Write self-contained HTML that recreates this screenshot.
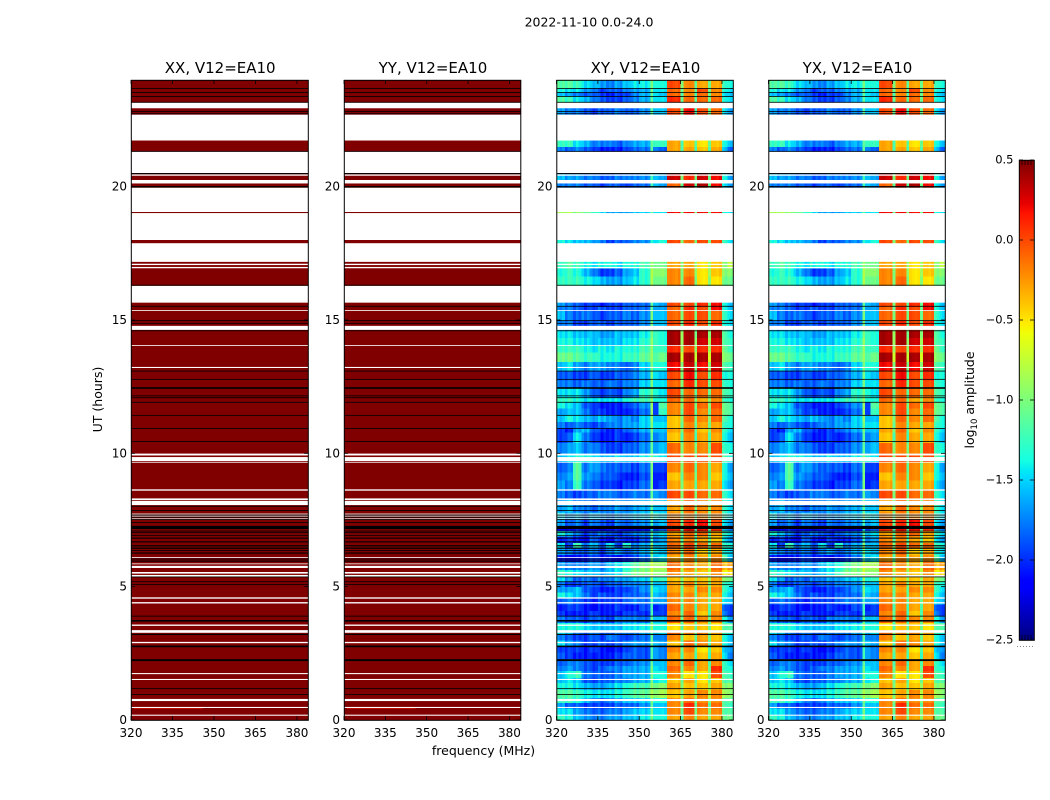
<!DOCTYPE html>
<html>
<head>
<meta charset="utf-8">
<title>2022-11-10 0.0-24.0</title>
<style>
html,body{margin:0;padding:0;background:#fff;}
svg{display:block;}
text{font-family:"DejaVu Sans","Liberation Sans",sans-serif;fill:#000;}
</style>
</head>
<body>
<svg id="chart" xmlns="http://www.w3.org/2000/svg" width="1050" height="800" viewBox="0 0 1050 800"></svg>
<script>
const panelTitles = ["XX, V12=EA10", "YY, V12=EA10", "XY, V12=EA10", "YX, V12=EA10"];
const freqTicks = [320, 335, 350, 365, 380];
const hourTicks = [0, 5, 10, 15, 20];
const colorbarTicks = [0.5, 0.0, -0.5, -1.0, -1.5, -2.0, -2.5];
const channelEdges = [320,323,326,329,332,335,338,341,344,347,350,354,355,357,360,365,366,370,371,375,376,380,382,384];
const columnOffset = [-0.05,-0.05,-0.05,-0.05,-0.05,-0.05,-0.05,-0.05,-0.05,-0.05,-0.1,-0.05,-0.25,-0.25,0.1,-0.2,0.1,-0.2,0.1,-0.2,0.1,-0.15,-0.15];
const channelRipple = [0.05,-0.05,0.03,-0.08,0.05,0,-0.05,0.08,-0.03,0.05,-0.08,0.03,0.05,-0.05,0,0.08,-0.08,0.03,-0.03,0.05,-0.05,0.08,0,-0.08,0.05,-0.03,0.03,-0.05,0.08,-0.05,0,0.05,-0.08,0.03,0.05,0,0,0,0.03,-0.03,0,0.03,0,-0.03,0.03,0,-0.03,0,0.03,0,-0.03,0.03,0,-0.03,0,0.03,0,0,-0.03,0.03,0.05,-0.05,0.03,-0.03];
const parallelAmplitude = [0.5];
const flaggedBands = [[0.16,0.20],[0.45,0.49],[0.71,0.79],[1.50,1.54],[1.72,1.76],[2.88,2.93],[3.27,3.37],[3.53,3.58],[4.37,4.42],[4.55,4.60],[5.38,5.44],[5.49,5.55],[5.70,5.78],[5.84,5.87],[6.08,6.11],[7.53,7.56],[7.63,7.66],[7.71,7.74],[8.06,8.22],[8.25,8.31],[8.60,8.65],[9.65,9.68],[9.71,9.86],[9.92,9.99],[13.20,13.24],[14.04,14.06],[14.63,14.78],[15.35,15.37],[15.65,16.28],[16.94,16.99],[17.06,17.11],[17.18,17.88],[18.00,19.01],[19.05,19.96],[20.12,20.25],[20.41,20.46],[20.51,21.31],[21.73,22.70],[22.94,23.15]];
const blankBands = [[0.94,0.97],[1.16,1.19],[2.21,2.28],[2.73,2.79],[3.19,3.23],[3.69,3.75],[3.88,3.91],[5.06,5.09],[5.17,5.20],[5.36,5.38],[5.94,5.98],[6.03,6.05],[6.24,6.28],[6.35,6.37],[6.43,6.45],[6.48,6.50],[6.54,6.56],[6.66,6.70],[6.80,6.84],[6.92,6.94],[7.01,7.04],[7.08,7.10],[7.16,7.28],[7.40,7.42],[7.50,7.53],[7.59,7.62],[7.67,7.70],[7.85,7.87],[8.00,8.03],[10.43,10.46],[10.92,10.95],[11.41,11.44],[11.90,11.93],[12.07,12.10],[12.15,12.17],[12.42,12.48],[12.76,12.79],[13.07,13.10],[14.58,14.61],[14.86,14.89],[14.96,14.99],[15.50,15.53],[16.30,16.32],[19.97,20.02],[20.47,20.51],[21.31,21.34],[22.72,22.75],[22.80,22.83],[23.15,23.18],[23.38,23.40],[23.52,23.55],[23.67,23.70]];
const rowStartHours = [0,0.2,0.45,0.65,0.85,1.15,1.4,1.6,1.85,2.05,2.3,2.55,2.75,3,3.2,3.4,3.65,3.9,4.1,4.35,4.6,4.8,5,5.2,5.45,5.65,5.95,6.2,6.45,6.65,6.9,7.1,7.3,7.55,7.8,8.3,8.65,9,9.3,9.7,10,10.4,10.8,10.95,11.2,11.45,11.7,11.95,12.1,12.45,12.75,13.1,13.45,13.8,14.05,14.35,14.6,14.8,15,15.35,15.5,16.3,16.65,16.95,17.88,19,19.96,20.25,21.3,21.5,22.7,23.15,23.4,23.55,23.7];
const crossValues = [
[-1.2,-1.3,-1.5,-1.6,-1.7,-1.7,-1.6,-1.6,-1.5,-1.5,-1.3,-1.0,-1.1,-1.1,-0.4,-1.0,-0.3,-0.8,-0.4,-0.8,-0.4,-0.9,-0.9],
[-1.4,-1.4,-1.6,-1.7,-1.8,-1.8,-1.7,-1.7,-1.6,-1.5,-1.4,-1.0,-1.2,-1.2,-0.3,-0.9,-0.1,-0.8,-0.3,-0.8,-0.3,-1.0,-1.0],
[-1.6,-1.8,-1.8,-1.9,-1.9,-1.9,-1.9,-1.8,-1.8,-1.8,-1.6,-1.1,-1.3,-1.3,-0.3,-0.9,0.0,-0.9,-0.2,-1.0,-0.2,-1.0,-1.1],
[-1.2,-1.2,-1.3,-1.5,-1.7,-1.8,-1.7,-1.6,-1.5,-1.5,-1.4,-1.0,-1.1,-1.1,-0.3,-0.8,-0.2,-0.8,-0.3,-0.8,-0.3,-1.0,-1.0],
[-1.1,-1.1,-1.2,-1.3,-1.4,-1.4,-1.4,-1.3,-1.2,-1.1,-1.0,-0.8,-0.7,-0.6,-0.5,-0.8,-0.4,-0.7,-0.3,-0.6,-0.3,-0.7,-0.8],
[-1.3,-1.3,-1.4,-1.5,-1.6,-1.6,-1.5,-1.4,-1.3,-1.2,-1.1,-0.9,-0.8,-0.7,-0.4,-0.8,-0.5,-0.8,-0.5,-0.7,-0.4,-0.8,-0.8],
[-1.5,-1.4,-1.5,-1.8,-1.9,-1.8,-1.8,-1.7,-1.7,-1.6,-1.5,-1.0,-1.2,-1.1,-0.5,-0.9,-0.4,-0.9,-0.6,-0.9,-0.5,-1.0,-1.0],
[-1.5,-1.3,-1.2,-1.7,-1.8,-1.8,-1.8,-1.7,-1.6,-1.6,-1.5,-1.0,-1.1,-1.1,-0.3,-0.8,-0.6,-0.9,-0.6,-0.8,-0.1,-1.0,-1.1],
[-1.7,-1.6,-1.7,-1.8,-1.9,-1.8,-1.7,-1.7,-1.6,-1.6,-1.5,-1.0,-1.2,-1.3,-0.2,-0.9,-0.3,-0.9,-0.4,-0.9,0.0,-1.1,-1.2],
[-1.8,-1.7,-1.7,-1.8,-1.9,-1.9,-1.9,-1.8,-1.8,-1.7,-1.6,-1.1,-1.3,-1.3,-0.3,-1.0,-0.2,-1.0,-0.4,-1.0,-0.3,-1.1,-1.3],
[-1.8,-1.9,-2.0,-2.0,-2.0,-2.0,-2.0,-1.9,-1.8,-1.8,-1.8,-1.2,-1.4,-1.5,-0.4,-1.0,-0.4,-1.0,-0.5,-1.1,-0.4,-1.3,-1.6],
[-1.9,-1.9,-1.9,-2.0,-1.9,-2.0,-2.1,-2.0,-1.9,-1.8,-1.8,-1.2,-1.4,-1.5,-0.3,-0.9,-0.3,-0.9,-0.6,-1.0,-0.5,-1.4,-1.5],
[-1.4,-1.6,-1.7,-1.9,-1.9,-1.8,-1.9,-1.8,-1.7,-1.6,-1.6,-1.1,-1.3,-1.4,-0.5,-1.0,-0.2,-1.0,-0.3,-1.0,-0.4,-1.2,-1.4],
[-1.7,-1.8,-1.9,-1.9,-1.8,-1.9,-1.7,-1.8,-1.9,-1.8,-1.7,-1.1,-1.5,-1.5,-0.3,-0.9,-0.5,-0.9,-0.4,-0.9,-0.5,-1.2,-1.4],
[-1.4,-1.5,-1.7,-1.8,-1.7,-1.8,-1.8,-1.7,-1.7,-1.7,-1.5,-1.1,-1.3,-1.2,-0.2,-0.8,-0.3,-0.8,-0.3,-0.8,-0.4,-1.1,-1.2],
[-1.3,-1.3,-1.3,-1.4,-1.5,-1.5,-1.5,-1.5,-1.4,-1.4,-1.3,-0.9,-1.1,-1.1,-0.6,-1.0,-0.5,-0.9,-0.5,-0.9,-0.6,-1.0,-1.0],
[-1.7,-1.8,-1.8,-1.9,-1.8,-1.8,-1.9,-1.7,-1.7,-1.7,-1.7,-1.1,-1.3,-1.3,-0.2,-0.9,-0.2,-1.0,-0.3,-0.9,-0.3,-1.2,-1.5],
[-1.9,-2.0,-2.0,-2.0,-1.9,-2.0,-2.0,-2.0,-1.9,-1.9,-1.9,-1.2,-1.7,-1.7,-0.3,-0.9,-0.2,-1.0,-0.5,-1.0,-0.3,-1.6,-1.8],
[-2.0,-1.9,-1.9,-2.0,-2.1,-2.0,-2.0,-1.9,-2.0,-2.0,-1.8,-1.2,-1.8,-1.7,-0.2,-1.0,-0.3,-1.0,-0.4,-1.0,-0.4,-1.7,-1.8],
[-1.8,-1.7,-1.8,-1.9,-2.0,-1.9,-1.9,-1.9,-1.8,-1.7,-1.7,-1.2,-1.4,-1.4,-0.3,-0.9,-0.3,-0.9,-0.4,-0.9,-0.4,-1.3,-1.4],
[-1.3,-1.4,-1.5,-1.7,-1.9,-1.8,-1.9,-1.9,-1.8,-1.8,-1.7,-1.0,-1.3,-1.4,-0.3,-0.9,-0.3,-0.9,-0.4,-0.9,-0.4,-1.2,-1.4],
[-1.6,-1.6,-1.5,-1.8,-1.9,-2.0,-2.0,-1.9,-1.9,-1.8,-1.6,-1.0,-1.2,-1.3,-0.4,-0.9,-0.4,-0.9,-0.3,-0.9,-0.3,-1.1,-1.3],
[-1.7,-1.9,-1.9,-1.8,-1.8,-1.9,-1.8,-1.8,-1.7,-1.7,-1.6,-1.1,-1.3,-1.3,-0.4,-0.8,-0.3,-0.8,-0.4,-0.8,-0.4,-1.1,-1.2],
[-1.4,-1.6,-1.8,-1.7,-1.8,-1.7,-1.7,-1.6,-1.6,-1.5,-1.4,-0.9,-1.1,-1.0,-0.5,-0.8,-0.5,-0.7,-0.5,-0.7,-0.4,-0.8,-0.9],
[-1.2,-1.3,-1.4,-1.5,-1.5,-1.6,-1.5,-1.4,-1.2,-1.0,-0.9,-0.7,-0.7,-0.7,-0.3,-0.7,-0.4,-0.7,-0.5,-0.6,-0.3,-0.4,-0.3],
[-1.6,-1.7,-1.7,-1.7,-1.6,-1.7,-1.5,-1.4,-1.3,-1.1,-0.9,-0.7,-0.6,-0.6,-0.2,-0.6,-0.3,-0.6,-0.4,-0.6,-0.2,-0.2,-0.1],
[-2.0,-2.1,-2.1,-2.0,-1.9,-2.0,-2.0,-2.1,-2.0,-1.9,-1.7,-1.1,-1.3,-1.2,-0.4,-1.0,-0.3,-1.0,-0.4,-1.0,-0.3,-1.0,-1.4],
[-1.6,-1.7,-1.8,-1.8,-1.7,-1.9,-1.7,-1.6,-1.8,-1.7,-1.5,-1.0,-1.2,-1.3,-0.3,-0.9,-0.2,-0.9,-0.5,-1.0,-0.4,-1.2,-1.3],
[-1.4,-1.9,-1.2,-1.7,-1.5,-1.8,-1.4,-1.9,-1.3,-1.7,-1.5,-0.9,-1.3,-1.3,-0.2,-0.8,-0.1,-0.9,-0.2,-0.9,-0.2,-1.1,-1.2],
[-2.0,-1.9,-2.0,-2.1,-1.8,-2.0,-2.1,-1.9,-2.0,-2.0,-1.8,-1.2,-1.5,-1.4,-0.3,-1.0,-0.3,-1.0,-0.4,-1.0,-0.5,-1.3,-1.5],
[-1.3,-1.5,-1.7,-1.9,-1.8,-1.7,-1.8,-1.9,-1.8,-1.7,-1.6,-1.1,-1.3,-1.2,-0.4,-0.9,-0.2,-0.9,-0.2,-1.0,-0.4,-1.1,-1.3],
[-2.1,-2.1,-2.0,-2.1,-2.1,-2.2,-2.1,-2.0,-2.1,-2.1,-2.0,-1.4,-1.7,-1.6,0.0,-1.0,0.1,-1.0,0.1,-1.0,0.0,-1.4,-1.6],
[-1.6,-1.8,-1.7,-1.9,-1.7,-1.8,-1.9,-1.7,-1.8,-1.7,-1.6,-1.2,-1.4,-1.3,-0.1,-0.9,0.0,-0.9,0.1,-1.0,-0.1,-1.3,-1.5],
[-1.4,-1.6,-1.5,-1.7,-1.5,-1.6,-1.7,-1.6,-1.6,-1.5,-1.4,-1.0,-1.1,-1.2,-0.3,-0.9,-0.3,-0.9,-0.3,-0.9,-0.3,-1.1,-1.3],
[-1.6,-1.5,-1.7,-1.7,-1.8,-1.7,-1.7,-1.6,-1.7,-1.6,-1.5,-1.1,-1.3,-1.3,-0.4,-0.8,-0.2,-0.8,-0.3,-0.8,-0.3,-1.1,-1.3],
[-1.7,-1.8,-1.9,-1.8,-1.8,-1.7,-1.7,-1.8,-1.8,-1.7,-1.7,-1.1,-1.4,-1.5,-0.1,-0.8,-0.1,-0.8,-0.2,-0.8,-0.2,-1.1,-1.3],
[-1.6,-1.7,-1.2,-1.7,-1.8,-1.9,-1.9,-2.0,-1.9,-1.9,-1.7,-1.0,-1.8,-1.7,-0.4,-0.8,-0.4,-0.9,-0.4,-0.8,-0.4,-1.3,-1.5],
[-1.7,-1.6,-1.1,-1.6,-1.7,-1.8,-1.8,-1.9,-2.0,-2.0,-1.8,-1.0,-1.8,-1.8,-0.5,-0.9,-0.3,-0.8,-0.3,-0.9,-0.5,-1.2,-1.4],
[-1.8,-1.7,-1.1,-1.7,-1.6,-1.7,-1.8,-1.8,-1.8,-1.9,-1.7,-1.0,-1.7,-1.7,-0.3,-0.8,-0.2,-0.9,-0.3,-0.9,-0.4,-1.2,-1.5],
[-1.5,-1.4,-1.3,-1.3,-1.4,-1.5,-1.5,-1.4,-1.5,-1.5,-1.3,-1.0,-1.1,-1.2,-0.1,-0.8,-0.1,-0.8,-0.1,-0.8,-0.1,-1.0,-1.2],
[-1.7,-1.6,-1.5,-1.7,-1.7,-1.8,-1.9,-1.9,-1.8,-1.8,-1.6,-1.1,-1.4,-1.3,-0.2,-0.8,-0.3,-0.8,-0.3,-0.9,-0.1,-1.1,-1.2],
[-1.9,-1.8,-1.4,-1.7,-1.9,-2.0,-2.0,-1.9,-2.0,-1.9,-1.7,-1.1,-1.5,-1.4,-0.5,-1.0,-0.3,-1.0,-0.4,-1.0,-0.4,-1.2,-1.4],
[-1.9,-2.0,-1.6,-1.5,-1.8,-1.9,-2.0,-1.9,-1.8,-1.7,-1.5,-1.0,-1.3,-1.3,-0.4,-0.8,-0.2,-0.9,-0.5,-0.8,-0.3,-1.1,-1.3],
[-1.7,-1.8,-1.7,-1.8,-1.9,-1.8,-1.7,-1.7,-1.6,-1.6,-1.4,-1.0,-1.2,-1.2,-0.5,-0.9,-0.3,-0.9,-0.4,-0.9,-0.4,-1.1,-1.2],
[-1.5,-1.3,-1.4,-1.5,-1.6,-1.5,-1.6,-1.7,-1.6,-1.7,-1.4,-0.9,-1.3,-1.3,-0.5,-0.8,-0.2,-0.8,-0.3,-0.8,-0.2,-1.0,-1.2],
[-1.6,-1.5,-1.5,-1.7,-1.9,-1.9,-2.0,-2.0,-2.0,-1.9,-1.7,-0.9,-1.7,-1.0,-0.3,-0.9,-0.1,-0.9,-0.3,-0.9,-0.2,-0.9,-1.0],
[-1.3,-1.4,-1.5,-1.8,-1.9,-2.0,-2.0,-2.0,-1.9,-1.8,-1.6,-0.9,-1.7,-0.9,-0.3,-0.8,-0.1,-0.8,-0.2,-0.8,-0.1,-0.9,-1.0],
[-1.2,-1.2,-1.3,-1.4,-1.4,-1.4,-1.4,-1.4,-1.3,-1.2,-1.1,-0.9,-1.1,-1.1,-0.2,-0.8,-0.2,-0.8,-0.4,-0.8,-0.3,-1.1,-1.2],
[-1.4,-1.4,-1.4,-1.6,-1.8,-1.9,-1.8,-1.9,-1.7,-1.6,-1.2,-1.0,-1.1,-1.2,-0.1,-0.9,-0.2,-0.9,-0.2,-0.9,-0.2,-1.0,-1.1],
[-1.7,-1.7,-1.8,-1.7,-1.8,-1.8,-1.7,-1.8,-1.7,-1.7,-1.4,-1.0,-1.2,-1.2,-0.2,-0.8,0.0,-0.8,-0.1,-0.9,-0.1,-1.1,-1.2],
[-1.8,-1.8,-1.9,-1.9,-1.8,-1.9,-1.9,-1.8,-1.8,-1.7,-1.5,-1.0,-1.2,-1.3,-0.1,-0.8,0.1,-0.9,-0.1,-0.9,0.0,-1.2,-1.2],
[-1.5,-1.4,-1.6,-1.7,-1.6,-1.6,-1.7,-1.7,-1.8,-1.7,-1.4,-1.0,-1.1,-1.1,0.1,-0.8,0.2,-0.8,0.1,-0.8,0.2,-1.0,-1.1],
[-1.0,-1.0,-1.1,-1.2,-1.2,-1.3,-1.3,-1.3,-1.2,-1.2,-1.0,-0.9,-0.9,-0.8,0.3,-0.5,0.3,-0.5,0.3,-0.5,0.3,-0.8,-0.9],
[-1.2,-1.2,-1.2,-1.3,-1.4,-1.3,-1.4,-1.3,-1.3,-1.3,-1.1,-0.9,-1.0,-1.0,0.0,-0.7,-0.1,-0.7,0.0,-0.7,0.0,-0.9,-1.1],
[-1.3,-1.3,-1.4,-1.4,-1.5,-1.5,-1.5,-1.5,-1.4,-1.4,-1.2,-0.9,-1.0,-1.1,0.3,-0.7,0.3,-0.7,0.2,-0.7,0.2,-1.0,-1.1],
[-1.4,-1.4,-1.5,-1.5,-1.5,-1.6,-1.6,-1.5,-1.5,-1.5,-1.3,-1.0,-1.0,-1.1,0.3,-0.7,0.3,-0.8,0.3,-0.8,0.3,-1.0,-1.2],
[-1.5,-1.6,-1.6,-1.7,-1.6,-1.6,-1.7,-1.6,-1.6,-1.6,-1.4,-1.0,-1.2,-1.2,0.0,-0.8,0.0,-0.8,0.0,-0.8,0.1,-1.1,-1.3],
[-1.7,-1.7,-1.9,-1.9,-1.8,-1.8,-1.9,-1.8,-1.8,-1.8,-1.6,-1.0,-1.3,-1.3,-0.1,-0.9,0.0,-0.9,-0.1,-0.9,0.0,-1.2,-1.3],
[-1.5,-1.7,-1.8,-1.7,-1.8,-1.9,-1.8,-1.8,-1.7,-1.8,-1.6,-1.0,-1.3,-1.3,-0.2,-0.8,-0.1,-0.8,-0.1,-0.9,-0.2,-1.1,-1.3],
[-1.7,-1.7,-1.8,-1.9,-1.9,-1.8,-1.9,-1.9,-1.8,-1.8,-1.7,-1.1,-1.4,-1.4,-0.2,-0.9,0.0,-0.9,-0.1,-0.9,0.1,-1.2,-1.4],
[-1.6,-1.7,-1.8,-1.9,-1.9,-2.0,-1.9,-1.9,-1.8,-1.8,-1.7,-1.1,-1.3,-1.4,-0.1,-0.8,-0.1,-0.9,0.0,-0.9,0.1,-1.2,-1.4],
[-1.2,-1.2,-1.2,-1.3,-1.4,-1.5,-1.6,-1.6,-1.5,-1.4,-1.2,-0.8,-0.8,-0.8,-0.3,-0.8,-0.2,-0.8,-0.6,-0.8,-0.6,-0.9,-0.9],
[-1.3,-1.2,-1.3,-1.5,-1.7,-1.9,-1.9,-1.8,-1.6,-1.5,-1.2,-0.8,-0.7,-0.7,-0.3,-0.8,-0.3,-0.7,-0.6,-0.7,-0.5,-0.8,-0.8],
[-1.2,-1.1,-1.2,-1.3,-1.4,-1.3,-1.3,-1.4,-1.3,-1.3,-1.1,-0.9,-0.8,-0.8,-0.4,-0.8,-0.4,-0.7,-0.6,-0.7,-0.5,-0.8,-0.6],
[-1.3,-1.4,-1.5,-1.5,-1.6,-1.7,-1.9,-1.8,-1.8,-1.7,-1.6,-1.3,-1.2,-1.1,-0.1,-0.8,-0.2,-0.8,-0.1,-0.9,-0.1,-1.1,-1.3],
[-0.8,-0.8,-0.9,-1.0,-1.2,-1.4,-1.6,-1.6,-1.6,-1.5,-1.4,-1.1,-1.2,-1.2,0.1,-0.9,0.1,-0.8,0.1,-0.9,0.1,-1.2,-1.3],
[-1.7,-1.7,-1.7,-1.8,-1.8,-1.9,-1.8,-1.8,-1.9,-1.8,-1.7,-1.2,-1.3,-1.4,-0.2,-0.9,0.2,-0.9,0.3,-0.9,0.1,-1.3,-1.5],
[-1.5,-1.6,-1.6,-1.7,-1.7,-1.8,-1.8,-1.7,-1.7,-1.7,-1.6,-1.2,-1.3,-1.4,0.2,-0.8,0.0,-0.8,0.2,-0.9,0.1,-1.2,-1.5],
[-1.7,-1.8,-1.7,-1.8,-1.9,-2.0,-2.0,-2.0,-1.9,-1.8,-1.7,-1.1,-1.5,-1.6,-0.4,-1.0,-0.4,-1.0,-0.5,-1.0,-0.4,-1.4,-1.7],
[-1.2,-1.2,-1.4,-1.5,-1.7,-1.7,-1.7,-1.8,-1.7,-1.6,-1.5,-1.1,-1.0,-1.0,-0.4,-1.0,-0.5,-0.9,-0.6,-0.9,-0.5,-1.2,-1.4],
[-1.6,-1.7,-1.7,-1.8,-1.9,-1.8,-1.8,-1.7,-1.8,-1.8,-1.6,-1.1,-1.3,-1.3,-0.1,-0.9,0.1,-1.0,-0.1,-0.9,-0.2,-1.3,-1.5],
[-1.1,-1.2,-1.4,-1.5,-1.7,-1.8,-1.9,-1.9,-1.8,-1.7,-1.5,-1.1,-1.2,-1.2,0.0,-0.9,-0.2,-0.9,-0.2,-0.9,-0.2,-1.2,-1.3],
[-1.5,-1.6,-1.7,-1.8,-1.8,-1.9,-2.0,-1.9,-1.9,-1.7,-1.5,-1.1,-1.2,-1.3,-0.2,-1.0,-0.3,-1.0,-0.2,-0.9,-0.3,-1.3,-1.4],
[-1.3,-1.4,-1.4,-1.6,-1.7,-1.9,-1.8,-1.8,-1.7,-1.6,-1.5,-1.0,-1.2,-1.2,-0.2,-0.9,-0.3,-0.9,-0.1,-0.9,-0.3,-1.2,-1.3],
[-1.1,-1.1,-1.2,-1.4,-1.5,-1.6,-1.7,-1.6,-1.5,-1.4,-1.3,-1.0,-1.1,-1.1,-0.1,-0.8,-0.3,-0.9,-0.4,-0.9,-0.4,-1.1,-1.2]
];
const hotBandHour = [0.42];
const hotBandValue = [0.15];
const hotBandFreqs = [321, 346];

var NS = 'http://www.w3.org/2000/svg';
var svg = document.getElementById('chart');
var jetR = [[0,0],[0.35,0],[0.66,1],[0.89,1],[1,0.5]];
var jetG = [[0,0],[0.125,0],[0.375,1],[0.64,1],[0.91,0],[1,0]];
var jetB = [[0,0.5],[0.11,1],[0.34,1],[0.65,0],[1,0]];
function channel(stops, t){
  for (var i = 1; i < stops.length; i++){
    if (t <= stops[i][0]){
      var a = stops[i-1], b = stops[i];
      return Math.round(255 * (a[1] + (b[1] - a[1]) * (t - a[0]) / (b[0] - a[0])));
    }
  }
  return Math.round(255 * stops[stops.length-1][1]);
}
function jet(v){
  var t = Math.max(0, Math.min(1, (v + 2.5) / 3));
  return 'rgb(' + channel(jetR, t) + ',' + channel(jetG, t) + ',' + channel(jetB, t) + ')';
}
function make(tag, attrs, parent){
  var el = document.createElementNS(NS, tag);
  for (var k in attrs) el.setAttribute(k, attrs[k]);
  (parent || svg).appendChild(el);
  return el;
}
var TOP = 80, BOTTOM = 720;
function yScale(h){ return BOTTOM - h * (BOTTOM - TOP) / 24; }
function xScaleFor(left, right){ return function(f){ return left + (f - 320) * (right - left) / 64; }; }
function columnOf(freq){
  for (var i = 0; i < channelEdges.length - 1; i++){ if (freq < channelEdges[i+1]) return i; }
  return channelEdges.length - 2;
}
function label(parent, x, y, str, size, anchor, name, rotate){
  var t = make('text', {x:x, y:y, 'font-size':size, 'text-anchor':anchor}, parent);
  
  
  if (rotate) t.setAttribute('transform', 'rotate(-90 ' + x + ' ' + y + ')');
  t.textContent = str;
  return t;
}
var panelBounds = [[131,308],[344,520.5],[556.5,733],[768.5,945]];
panelTitles.forEach(function(title, p){
  var left = panelBounds[p][0], right = panelBounds[p][1];
  var xs = xScaleFor(left, right);
  var g = make('g', {});
  
  
  if (p < 2){
    var base = make('rect', {x:left, y:TOP, width:right-left, height:BOTTOM-TOP, fill:jet(parallelAmplitude[0]), 'shape-rendering':'crispEdges'}, g);
    
    
    var hot = make('rect', {x:xs(hotBandFreqs[0]), y:yScale(hotBandHour[0]+0.06), width:xs(hotBandFreqs[1])-xs(hotBandFreqs[0]), height:1.4, fill:jet(hotBandValue[0]), 'shape-rendering':'crispEdges'}, g);
    
    
  } else {
    for (var r = 0; r < rowStartHours.length; r++){
      var h0 = rowStartHours[r], h1 = r + 1 < rowStartHours.length ? rowStartHours[r+1] : 24;
      for (var ch = 0; ch < 64; ch++){
        var col = columnOf(320 + ch);
        var v = crossValues[r][col] + columnOffset[col] + channelRipple[ch];
        var cell = make('rect', {x:xs(320+ch), y:yScale(h1), width:xs(321+ch)-xs(320+ch)+0.5, height:yScale(h0)-yScale(h1)+0.5, fill:jet(v), 'shape-rendering':'crispEdges'}, g);
        
        
      }
    }
  }
  flaggedBands.forEach(function(b){
    var w = make('rect', {x:left, y:yScale(b[1]), width:right-left, height:Math.max(0.8, yScale(b[0])-yScale(b[1])), fill:'#fff'}, g);
    
    
  });
  blankBands.forEach(function(b){
    var k = make('rect', {x:left, y:yScale(b[1]), width:right-left, height:Math.max(0.8, yScale(b[0])-yScale(b[1])), fill:'#000'}, g);
    
    
  });
  var frame = make('rect', {x:left+0.3, y:TOP+0.3, width:right-left, height:BOTTOM-TOP, fill:'none', stroke:'#000', 'stroke-width':1}, g);
  
  
  freqTicks.forEach(function(f){
    var px = xs(f);
    var tb = make('line', {x1:px, x2:px, y1:BOTTOM, y2:BOTTOM-4, stroke:'#000', 'stroke-width':0.8}, g);
    
    
    var tt = make('line', {x1:px, x2:px, y1:TOP, y2:TOP+4, stroke:'#000', 'stroke-width':0.8}, g);
    
    
    label(g, px, 737, String(f), 12, 'middle', 'x-tick-label');
  });
  hourTicks.forEach(function(h){
    var py = yScale(h);
    var tl = make('line', {x1:left, x2:left+4, y1:py, y2:py, stroke:'#000', 'stroke-width':0.8}, g);
    
    
    var tr = make('line', {x1:right, x2:right-4, y1:py, y2:py, stroke:'#000', 'stroke-width':0.8}, g);
    
    
    label(g, left-4, py+4, String(h), 12, 'end', 'y-tick-label');
  });
  label(g, (left+right)/2 + 0.7, 73, title, 15, 'middle', 'panel-title');
});
label(svg, 589, 26.5, '2022-11-10 0.0-24.0', 12.5, 'middle', 'figure-title');
label(svg, 483.5, 755, 'frequency (MHz)', 12.5, 'middle', 'x-axis-title');
label(svg, 102, 399.5, 'UT (hours)', 12.5, 'middle', 'y-axis-title', true);

/* colorbar */
var CB_L = 1019, CB_R = 1034, CB_T = 160, CB_B = 640;
function cbScale(v){ return CB_B - (v + 2.5) * (CB_B - CB_T) / 3; }
var cb = make('g', {});


for (var i = 0; i < 240; i++){
  var val = -2.5 + 3 * (i + 0.5) / 240;
  var seg = make('rect', {x:CB_L, y:CB_B-(i+1)*2, width:CB_R-CB_L, height:2.3, fill:jet(val), 'shape-rendering':'crispEdges'}, cb);
  
  
}
var cbFrame = make('rect', {x:CB_L+0.3, y:CB_T+0.3, width:CB_R-CB_L, height:CB_B-CB_T, fill:'none', stroke:'#000', 'stroke-width':1}, cb);


colorbarTicks.forEach(function(v){
  var py = cbScale(v);
  var a = make('line', {x1:CB_L, x2:CB_L+4, y1:py, y2:py, stroke:'#000', 'stroke-width':0.8}, cb);
  
  
  var b = make('line', {x1:CB_R, x2:CB_R-4, y1:py, y2:py, stroke:'#000', 'stroke-width':0.8}, cb);
  
  
  label(cb, 1013.5, py+3.5, v.toFixed(1).replace('-', '\u2212'), 11.5, 'end', 'colorbar-tick-label');
});
[1022,1025,1028,1031].forEach(function(px){
  var a = make('line', {x1:px, x2:px, y1:CB_T, y2:CB_T+5, stroke:'#000', 'stroke-width':0.7}, cb);
  
  
  var b = make('line', {x1:px, x2:px, y1:CB_B, y2:CB_B-5, stroke:'#000', 'stroke-width':0.7}, cb);
  
  
});
var dots = make('line', {x1:1017, x2:1035, y1:646.5, y2:646.5, stroke:'#888', 'stroke-width':1, 'stroke-dasharray':'1 2'}, cb);


var cbTitle = make('text', {x:974, y:400, 'font-size':12.5, 'text-anchor':'middle', transform:'rotate(-90 974 400)'}, cb);


cbTitle.appendChild(document.createTextNode('log'));
var sub = make('tspan', {'font-size':8.5, dy:3}, cbTitle);
sub.textContent = '10';
var rest = make('tspan', {dy:-3}, cbTitle);
rest.textContent = ' amplitude';
</script>
</body>
</html>
